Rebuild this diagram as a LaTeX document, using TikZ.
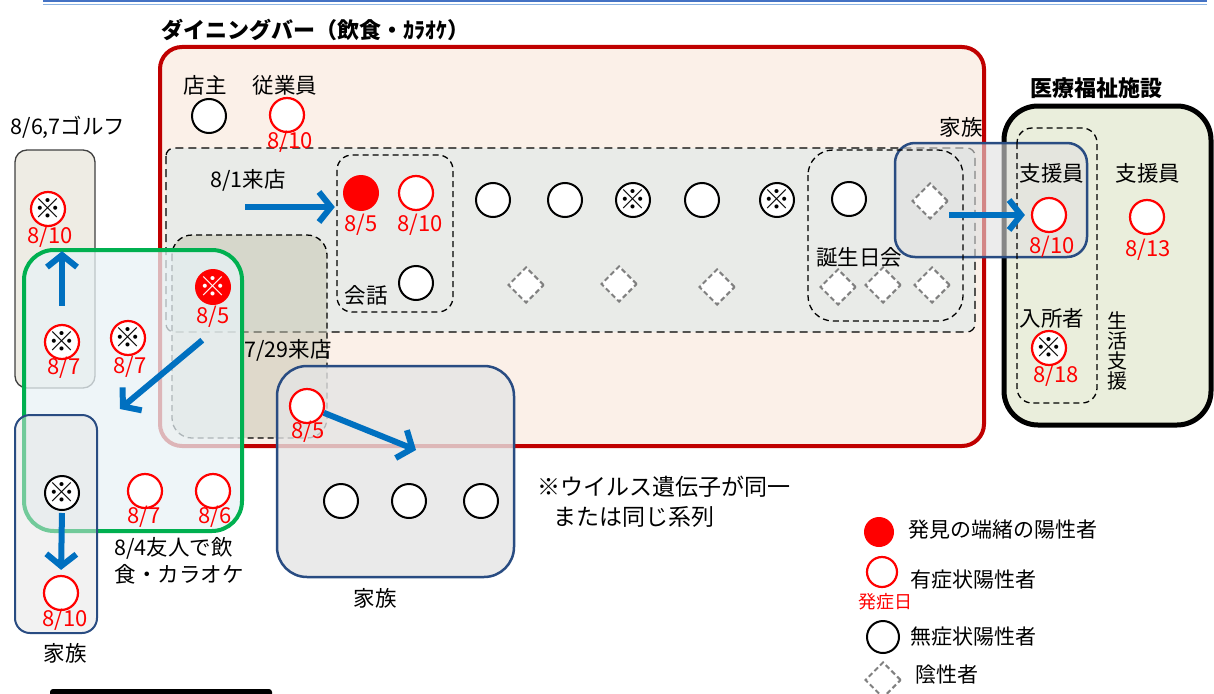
\documentclass[tikz,border=0pt]{standalone}
\usepackage{fontspec}
\setmainfont{Noto Sans CJK JP}
\usetikzlibrary{arrows.meta,shapes.geometric}
\definecolor{barred}{RGB}{192,0,0}
\definecolor{barfill}{RGB}{251,240,232}
\definecolor{seatfill}{RGB}{233,235,232}
\definecolor{visitfill}{RGB}{196,196,176}
\definecolor{flowblue}{RGB}{0,112,192}
\definecolor{famblue}{RGB}{41,76,130}
\definecolor{friendgreen}{RGB}{0,176,80}
\definecolor{friendfill}{RGB}{232,242,246}
\definecolor{golffill}{RGB}{238,236,228}
\definecolor{carefill}{RGB}{234,238,220}
\definecolor{rulea}{RGB}{68,114,196}
\definecolor{ruleb}{RGB}{141,180,226}

\begin{document}
\begin{tikzpicture}[x=1pt,y=-1pt,>={Straight Barb[length=12pt,width=30pt]}, every node/.style={font=\fontsize{21.5}{24}\selectfont}]
    \tikzset{sympos/.style={circle,draw=red,line width=2.2pt,fill=white,minimum size=34pt,inner sep=0pt}}
    \tikzset{trigger/.style={circle,fill=red,minimum size=36pt,inner sep=0pt}}
    \tikzset{nosym/.style={circle,draw,line width=2pt,fill=white,minimum size=34pt,inner sep=0pt}}
    \tikzset{kome/.style={font=\fontsize{27}{27}\selectfont}}
    \tikzset{neg/.style={diamond,draw=gray,dash pattern=on 5pt off 3pt,line width=2pt,fill=white,minimum size=36pt,inner sep=0pt}}
    \tikzset{day/.style={text=red,font=\fontsize{22}{22}\selectfont}}
    \tikzset{grp/.style={draw,dash pattern=on 6pt off 4pt,line width=1.3pt,rounded corners=15pt}}
    \tikzset{flow/.style={->,draw=flowblue,line width=6pt}}
    \useasboundingbox (0,0) rectangle (1214,693);

    % top rule and cut-off bar
    \draw[rulea,line width=2pt] (43,1) -- (1207,1);
    \draw[ruleb,line width=1.5pt] (43,4.5) -- (1207,4.5);
    \fill[rounded corners=3pt] (50,689) rectangle (272,704);

    % Boxes
    \draw[barred,line width=4pt,fill=barfill,rounded corners=22pt] (160,47) rectangle (984,446);
    \draw[dash pattern=on 8pt off 5pt,line width=1.3pt,fill=seatfill,rounded corners=8pt] (166,148) rectangle (975,332);
    \draw[grp,rounded corners=20pt,fill=visitfill,fill opacity=0.5] (172,235) rectangle (327,438);
    \draw[black!75,line width=1.3pt,fill=golffill,rounded corners=12pt] (15,150) rectangle (95,388);
    \draw[friendgreen,line width=4pt,fill=friendfill,fill opacity=0.75,rounded corners=30pt] (24,250) rectangle (242,531);
    \draw[famblue,line width=2pt,fill=black!10,fill opacity=0.5,rounded corners=15pt] (15,415) rectangle (97,633);
    \draw[famblue,line width=2.5pt,fill=black!10,fill opacity=0.8,rounded corners=30pt] (277,366) rectangle (514,577);
    \draw[line width=5pt,fill=carefill,rounded corners=34pt] (1004,106) rectangle (1211,425);
    \draw[famblue,line width=2.5pt,fill=black!12,fill opacity=0.6,rounded corners=20pt] (895,143) rectangle (1087,257);
    \draw[grp] (337,155) rectangle (453,312);
    \draw[grp,rounded corners=25pt] (808,150) rectangle (963,321);
    \draw[grp] (1017,128) rectangle (1097,403);

    % Dining bar
    \node (barl) at (315,30) {\fontsize{22}{24}\selectfont\bfseries ダイニングバー（飲食・ｶﾗｵｹ）};
    \node (ownerl) at (205,85) {店主};
    \node[nosym] (owner) at (209,116) {};
    \node (staffl) at (285,85) {従業員};
    \node[sympos] (staff) at (287,115) {};
    \node[day] (staffd) at (290,142) {8/10};
    \node (in1l) at (248,180) {8/1来店};
    \node[trigger] (c1) at (361,193) {};
    \node[day] (c1d) at (361,225) {8/5};
    \node[sympos] (c2) at (416,193) {};
    \node[day] (c2d) at (420,225) {8/10};
    \node (talkl) at (366,295) {会話};
    \node[nosym] (c3) at (416,283) {};
    \node[nosym] (r1) at (493,200) {};
    \node[nosym] (r2) at (565,200) {};
    \node[nosym,kome] (r3) at (633,200) {※};
    \node[nosym] (r4) at (702,200) {};
    \node[nosym,kome] (r5) at (777,200) {※};
    \node[neg] (n1) at (526,285) {};
    \node[neg] (n2) at (619,284) {};
    \node[neg] (n3) at (717,287) {};
    \node[nosym] (b1) at (849,199) {};
    \node (bdayl) at (859,257) {誕生日会};
    \node[neg] (b2) at (838,287) {};
    \node[neg] (b3) at (883,285) {};
    \node[neg] (b4) at (932,285) {};
    \node[neg] (fd) at (930,201) {};
    \node (famrl) at (961,127) {家族};

    % 7/29
    \node[trigger,kome,text=white] (k0) at (213,287) {※};
    \node[day] (k0d) at (213,317) {8/5};
    \node (visitl) at (288,350) {7/29来店};
    \node[sympos] (k1) at (307,406) {};
    \node[day] (k1d) at (308,432) {8/5};

    % Care facility
    \node (carel) at (1096,88) {\fontsize{22}{24}\selectfont\bfseries 医療福祉施設};
    \node (s1l) at (1052,173) {支援員};
    \node[sympos] (s1) at (1049,215) {};
    \node[day] (s1d) at (1052,247) {8/10};
    \node (s2l) at (1148,173) {支援員};
    \node[sympos] (s2) at (1147,217) {};
    \node[day] (s2d) at (1148,250) {8/13};
    \node (resl) at (1052,318) {入所者};
    \node[sympos,kome] (res) at (1049,348) {※};
    \node[day] (resd) at (1056,376) {8/18};
    \node[align=center,font=\fontsize{20}{20}\selectfont] (lifel) at (1117,351) {生\\活\\支\\援};

    % Golf
    \node (golfl) at (68,127) {8/6,7ゴルフ};
    \node[sympos,kome] (g1) at (48,209) {※};
    \node[day] (g1d) at (50,237) {8/10};
    \node[sympos,kome] (g2) at (62,342) {※};
    \node[day] (g2d) at (64,368) {8/7};
    \node[sympos,kome] (g3) at (128,338) {※};
    \node[day] (g3d) at (130,367) {8/7};

    % Friends and families
    \node[sympos] (k2) at (145,491) {};
    \node[day] (k2d) at (144,517) {8/7};
    \node[sympos] (k3) at (213,491) {};
    \node[day] (k3d) at (215,517) {8/6};
    \node[align=left,anchor=west,font=\fontsize{21.5}{27}\selectfont] (friendl) at (111,561) {8/4友人で飲\\食・カラオケ};
    \node[nosym,kome] (fx) at (62,493) {※};
    \node[sympos] (f1) at (61,593) {};
    \node[day] (f1d) at (65,620) {8/10};
    \node (famll) at (65,653) {家族};
    \node[nosym] (h1) at (341,501) {};
    \node[nosym] (h2) at (409,501) {};
    \node[nosym] (h3) at (481,501) {};
    \node (famdl) at (375,598) {家族};

    % Note
    \node[anchor=west,align=left,font=\fontsize{23}{30}\selectfont] (note) at (534,502) {※ウイルス遺伝子が同一\\\hspace{0.7em}または同じ系列};

    % Legend
    \node[trigger,minimum size=30pt] (lg1) at (879,532) {};
    \node[anchor=west,font=\fontsize{21}{24}\selectfont] (lg1l) at (905,530) {発見の端緒の陽性者};
    \node[sympos,minimum size=30pt] (lg2) at (882,572) {};
    \node[anchor=west,font=\fontsize{21}{24}\selectfont] (lg2l) at (907,580) {有症状陽性者};
    \node[day,font=\fontsize{18}{18}\selectfont] (lg2d) at (885,602) {発症日};
    \node[nosym,minimum size=32pt] (lg3) at (883,637) {};
    \node[anchor=west,font=\fontsize{21}{24}\selectfont] (lg3l) at (907,637) {無症状陽性者};
    \node[neg] (lg4) at (883,680) {};
    \node[anchor=west,font=\fontsize{21}{24}\selectfont] (lg4l) at (912,675) {陰性者};

    % Arrows
    \coordinate (in1) at (245,207);
    \coordinate (kto) at (120,409);
    \coordinate (hto) at (416,450);
    \draw[flow,shorten >=8pt] (in1) -- (in1 -| c1.west);
    \draw[flow,shorten <=14pt] (k0d.south) -- (kto);
    \draw[flow,shorten <=18pt] (g2.north) -- (g2.north |- g1d.south);
    \draw[flow,shorten <=2pt,shorten >=5pt] (fx.south) -- (f1.north);
    \draw[flow] (k1) -- (hto);
    \draw[flow,shorten >=6pt] (fd.east |- s1.west) -- (s1.west);
\end{tikzpicture}
\end{document}
